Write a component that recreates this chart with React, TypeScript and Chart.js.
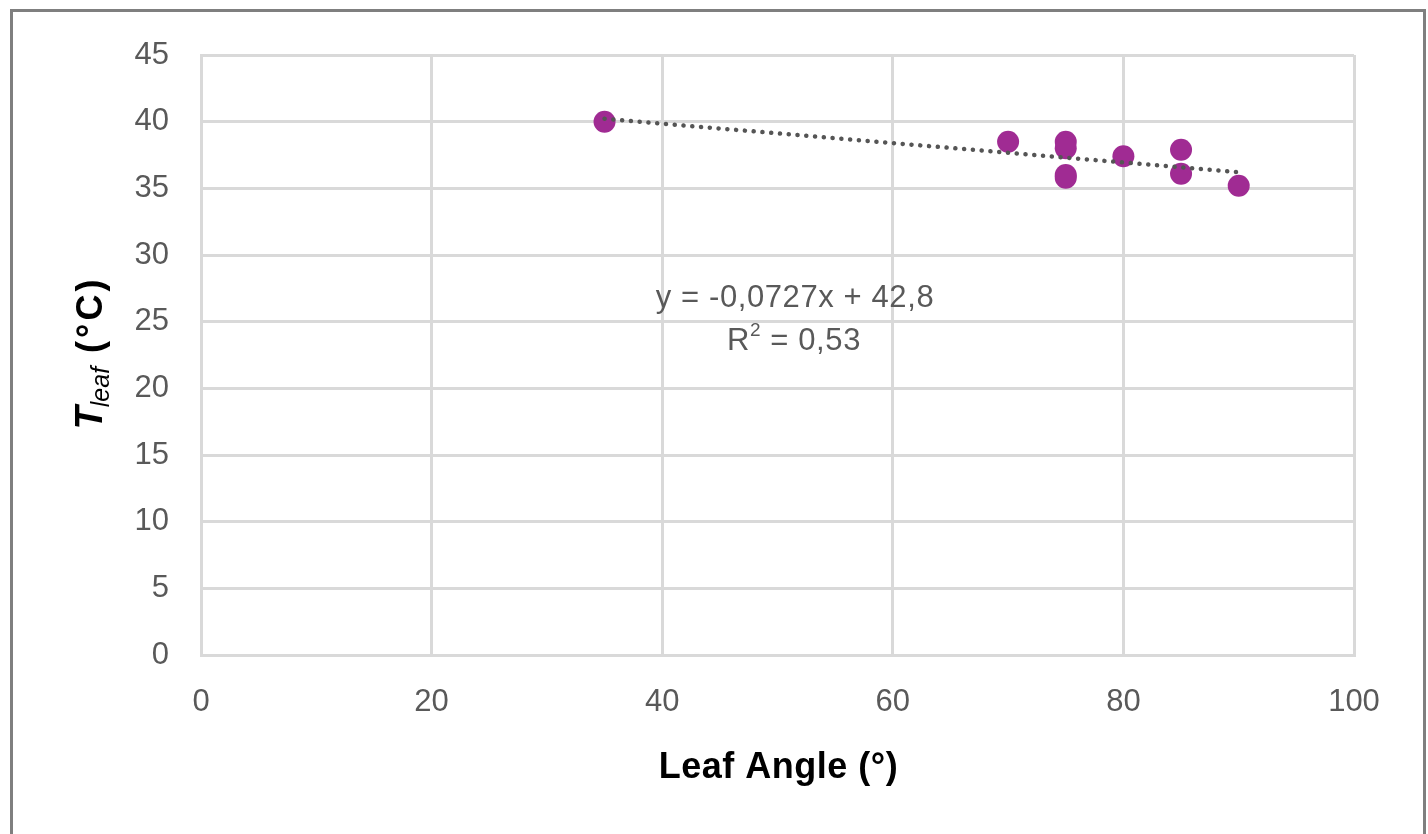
import React, { useEffect, useRef } from "react";
import { Chart, registerables } from "chart.js";

Chart.register(...registerables);

const leafAngle = [35, 70, 75, 75, 75, 75, 80, 85, 85, 90];
const leafTemp = [40.0, 38.5, 38.5, 38.0, 36.0, 35.8, 37.4, 37.9, 36.1, 35.2];
const xTicks = [0, 20, 40, 60, 80, 100];
const yTicks = [0, 5, 10, 15, 20, 25, 30, 35, 40, 45];
const equationText = "y = -0,0727x + 42,8";
const r2Label = "0,53";
const xTitle = "Leaf Angle (°)";

function regression(xs: number[], ys: number[]) {
  const n = xs.length;
  const mx = xs.reduce((a, b) => a + b, 0) / n;
  const my = ys.reduce((a, b) => a + b, 0) / n;
  let sxy = 0, sxx = 0;
  for (let i = 0; i < n; i++) {
    sxy += (xs[i] - mx) * (ys[i] - my);
    sxx += (xs[i] - mx) * (xs[i] - mx);
  }
  const slope = sxy / sxx;
  return { slope, intercept: my - slope * mx };
}

const FONT = "'Liberation Sans', Arial, sans-serif";
const W = 1428;
const H = 834;

function spaced(ctx: any, px: number) {
  try { ctx.letterSpacing = px + "px"; } catch (e) { /* ignore */ }
}

const decorPlugin = {
  id: "decor",
  beforeDraw(chart: any) {
    const ctx = chart.ctx;
    ctx.save();
    ctx.fillStyle = "#ffffff";
    ctx.fillRect(0, 0, W, H);
    ctx.restore();
  },
  afterDraw(chart: any) {
    const ctx = chart.ctx;
    const area = chart.chartArea;
    ctx.save();
    // outer frame
    ctx.strokeStyle = "#7f7f7f";
    ctx.lineWidth = 3;
    ctx.strokeRect(11.5, 10.5, 1413, 900);

    // x title
    ctx.fillStyle = "#000000";
    ctx.font = `bold 36px ${FONT}`;
    spaced(ctx, 0.5);
    ctx.textAlign = "center";
    ctx.textBaseline = "alphabetic";
    ctx.fillText(xTitle, (area.left + area.right) / 2 + 1, 778);

    // y title (rotated)
    ctx.save();
    ctx.translate(90, 353);
    ctx.rotate(-Math.PI / 2);
    const fT = `italic bold 38px ${FONT}`;
    const fSub = `italic 25px ${FONT}`;
    const fRest = `bold 36px ${FONT}`;
    spaced(ctx, 0);
    ctx.font = fT; const wT = ctx.measureText("T").width;
    ctx.font = fSub; const wS = ctx.measureText("leaf").width;
    spaced(ctx, 3);
    ctx.font = fRest; const wR = ctx.measureText(" (°C)").width;
    let x = -(wT + wS + wR) / 2;
    ctx.textAlign = "left";
    ctx.textBaseline = "alphabetic";
    spaced(ctx, 0);
    ctx.font = fT; ctx.fillText("T", x, 12); x += wT;
    ctx.font = fSub; ctx.fillText("leaf", x - 1, 19); x += wS;
    spaced(ctx, 3);
    ctx.font = fRest; ctx.fillText(" (°C)", x, 12);
    ctx.restore();

    // equation
    spaced(ctx, 0.6);
    ctx.fillStyle = "#595959";
    ctx.font = `31px ${FONT}`;
    ctx.textAlign = "center";
    ctx.textBaseline = "alphabetic";
    ctx.fillText(equationText, 795, 307);
    const p1 = "R", p2 = "2", p3 = " = " + r2Label;
    ctx.font = `31px ${FONT}`;
    const w1 = ctx.measureText(p1).width;
    const w3 = ctx.measureText(p3).width;
    ctx.font = `19px ${FONT}`;
    const w2 = ctx.measureText(p2).width;
    let sx = 794 - (w1 + w2 + w3) / 2;
    ctx.textAlign = "left";
    ctx.font = `31px ${FONT}`; ctx.fillText(p1, sx, 350); sx += w1;
    ctx.font = `19px ${FONT}`; ctx.fillText(p2, sx, 336); sx += w2;
    ctx.font = `31px ${FONT}`; ctx.fillText(p3, sx, 350);
    spaced(ctx, 0);
    ctx.restore();
  },
};

export default function App() {
  const ref = useRef<HTMLCanvasElement | null>(null);
  useEffect(() => {
    if (!ref.current) return;
    const { slope, intercept } = regression(leafAngle, leafTemp);
    const xMin = Math.min(...leafAngle);
    const xMax = Math.max(...leafAngle);
    const chart = new Chart(ref.current, {
      type: "scatter",
      data: {
        datasets: [
          {
            type: "line",
            data: [
              { x: xMin, y: slope * xMin + intercept },
              { x: xMax, y: slope * xMax + intercept },
            ],
            borderColor: "#555555",
            borderWidth: 4.5,
            borderDash: [0.1, 8.7],
            borderCapStyle: "round",
            pointRadius: 0,
            fill: false,
          } as any,
          {
            data: leafAngle.map((a, i) => ({ x: a, y: leafTemp[i] })),
            backgroundColor: "#A02B93",
            borderWidth: 0,
            pointRadius: 11,
            pointHoverRadius: 11,
          },
        ],
      },
      options: {
        animation: false,
        responsive: false,
        devicePixelRatio: 1,
        layout: { padding: { top: 55, right: 74, left: 0, bottom: 0 } },
        plugins: { legend: { display: false }, tooltip: { enabled: false }, title: { display: false } },
        scales: {
          x: {
            type: "linear",
            min: 0,
            max: 100,
            afterBuildTicks: (s: any) => { s.ticks = xTicks.map((v) => ({ value: v })); },
            afterFit: (s: any) => { s.height = H - 655; },
            ticks: { font: { family: FONT, size: 31 }, color: "#595959", padding: 29 },
            grid: { color: "#d9d9d9", lineWidth: 3, drawTicks: false },
            border: { color: "#d9d9d9", width: 3 },
          },
          y: {
            type: "linear",
            min: 0,
            max: 45,
            afterBuildTicks: (s: any) => { s.ticks = yTicks.map((v) => ({ value: v })); },
            afterFit: (s: any) => { s.width = 201; },
            ticks: { font: { family: FONT, size: 31 }, color: "#595959", padding: 32 },
            grid: { color: "#d9d9d9", lineWidth: 3, drawTicks: false },
            border: { color: "#d9d9d9", width: 3 },
          },
        },
      },
      plugins: [decorPlugin],
    });
    return () => chart.destroy();
  }, []);
  return (
    <div style={{ position: "absolute", left: 0, top: 0, width: W, height: H, overflow: "hidden" }}>
      <canvas ref={ref} width={W} height={H} style={{ display: "block", width: W, height: H }} />
    </div>
  );
}
